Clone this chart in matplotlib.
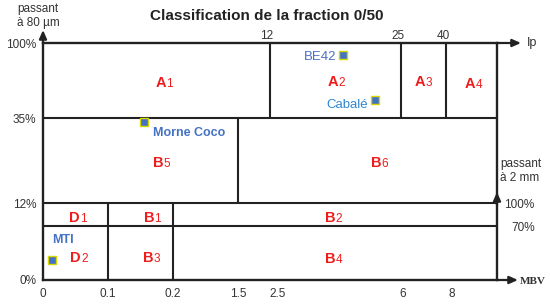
import numpy as np
import matplotlib
matplotlib.use('Agg')
import matplotlib.pyplot as plt
from matplotlib.transforms import ScaledTranslation

plt.rcParams['font.family'] = ['Liberation Sans', 'DejaVu Sans']

# ---------------- data ----------------
TITLE = "Classification de la fraction 0/50"
MBV_TICKS = [0, 0.1, 0.2, 1.5, 2.5, 6, 8]
MBV_TICK_LABELS = ["0", "0.1", "0.2", "1.5", "2.5", "6", "8"]
IP_TICKS = [12, 25, 40]
P80_TICKS = [0, 12, 35, 100]
P2_TICKS = [70, 100]

# class boundaries
P80_LIMITS = [12, 35]          # passant 80 µm (%)
A_IP_LIMITS = [12, 25, 40]     # Ip limits for A classes (35-100 %)
B_MBV_LIMIT = [1.5]            # B5 / B6 (12-35 %)
LOW_MBV_LIMITS = [0.1, 0.2]    # D / B1-B3 / B2-B4 (0-12 %)
P2_LIMIT = [70]                # passant 2 mm (%)

# samples
IP_SAMPLES = ["BE42", "Cabalé"]
IP_SAMPLES_IP = [19.2, 22.4]
IP_SAMPLES_P80 = [89.6, 50.6]
MBV_SAMPLES = ["Morne Coco", "MTI"]
MBV_SAMPLES_MBV = [0.155, 0.014]
MBV_SAMPLES_P80 = [33.9, 3.1]

CLASSES = ["A", "A", "A", "A", "B", "B", "D", "B", "B", "D", "B", "B"]
CLASS_SUBS = ["1", "2", "3", "4", "5", "6", "1", "1", "2", "2", "3", "4"]

# ---------------- layout ----------------
W, H = 550, 305
fig = plt.figure(figsize=(5.5, 3.05), dpi=100)
fig.patch.set_facecolor('white')


def fx(x):
    return x / W


def fy(y):
    return 1 - y / H


L, R, T, B = 43, 497, 43, 280
ax = fig.add_axes([fx(L), fy(B), (R - L) / W, (B - T) / H])


def piecewise(nodes, pos):
    n = np.asarray(nodes, float)
    p = np.asarray(pos, float)
    return (lambda v: np.interp(v, n, p)), (lambda v: np.interp(v, p, n))


ax.set_xscale('function', functions=piecewise([0, 0.1, 0.2, 1.5, 2.5, 6, 8, 10],
                                              [0, 65, 130, 195, 235, 360, 409, 454]))
ax.set_yscale('function', functions=piecewise([0, 12, 35, 100], [0, 77, 162, 237]))
ax.set_xlim(0, 10)
ax.set_ylim(0, 100)

LC = '#222222'
LW = 1.5
for s in ax.spines.values():
    s.set_linewidth(1.7)
    s.set_color(LC)

# horizontal limits
for v in P80_LIMITS:
    ax.axhline(v, color=LC, lw=LW)
ax.vlines(B_MBV_LIMIT, 12, 35, color=LC, lw=LW)
ax.vlines(LOW_MBV_LIMITS, 0, 12, color=LC, lw=LW)

# MBV ticks
ax.set_xticks(MBV_TICKS)
ax.set_xticklabels(MBV_TICK_LABELS)
ax.set_yticks(P80_TICKS)
ax.set_yticklabels([f"{v}%" for v in P80_TICKS])
ax.tick_params(length=0, labelsize=8.5, labelcolor='#333333')
ax.tick_params(axis='x', pad=6)
ax.tick_params(axis='y', pad=5)

# Ip axis
ax_ip = ax.twiny()
ax_ip.set_xscale('function', functions=piecewise([0, 12, 25, 40, 60],
                                                 [0, 227, 358, 403, 454]))
ax_ip.set_xlim(0, 60)
ax_ip.vlines(A_IP_LIMITS, 35, 100, color=LC, lw=LW)
ax_ip.set_xticks(IP_TICKS)
ax_ip.tick_params(length=0, labelsize=8.5, labelcolor='#333333', pad=1)
for lab in ax_ip.get_xticklabels():
    lab.set_transform(lab.get_transform() + ScaledTranslation(-3 / 100, 0, fig.dpi_scale_trans))
for s in ax_ip.spines.values():
    s.set_visible(False)

# passant 2 mm axis
ax2 = ax.twinx()
ax2.set_ylim(0, 100 * 237 / 77)
ax2.axhline(P2_LIMIT[0], color=LC, lw=LW)
ax2.set_yticks(P2_TICKS)
ax2.set_yticklabels([f"{v}%" for v in P2_TICKS])
ax2.tick_params(length=0, labelsize=8.5, labelcolor='#333333', pad=27)
for lab in ax2.get_yticklabels():
    lab.set_horizontalalignment('right')
for s in ax2.spines.values():
    s.set_visible(False)

# samples
MK = dict(marker='s', ms=6, mfc='#4472c4', mec='#d8d800', mew=1.0, ls='none', zorder=5)
ax_ip.plot(IP_SAMPLES_IP, IP_SAMPLES_P80, **MK)
ax.plot(MBV_SAMPLES_MBV, MBV_SAMPLES_P80, **MK)
ip_offsets = [(-4.5, -1.5), (-5, -3.8)]
ip_colors = ['#4a6fc4', '#2f86d2']
for name, xv, yv, off, c in zip(IP_SAMPLES, IP_SAMPLES_IP, IP_SAMPLES_P80, ip_offsets, ip_colors):
    ax_ip.annotate(name, (xv, yv), xytext=off, textcoords='offset points',
                   ha='right', va='center', fontsize=9.5, color=c)
mbv_offsets = [(7, -8), (0, 14.5)]
mbv_weights = ['bold', 'semibold']
for name, xv, yv, off, w in zip(MBV_SAMPLES, MBV_SAMPLES_MBV, MBV_SAMPLES_P80, mbv_offsets, mbv_weights):
    ax.annotate(name, (xv, yv), xytext=off, textcoords='offset points',
                ha='left', va='center', fontsize=9, color='#4472c4', fontweight=w)

# class labels (junction x, baseline y in px)
CLASS_POS = [(166, 87), (338, 86), (425, 86), (475, 88), (163, 167), (381, 167),
             (80, 222), (154, 222), (335, 222), (81, 262), (153, 262), (335, 263)]
RED = '#ee1c1c'
for name, sub, (x, y) in zip(CLASSES, CLASS_SUBS, CLASS_POS):
    fig.text(fx(x), fy(y), name, ha='right', va='baseline', fontsize=10.5,
             fontweight='bold', color=RED)
    fig.text(fx(x + 0.5), fy(y), sub, ha='left', va='baseline', fontsize=8.5,
             color=RED)

# title & axis names
fig.text(fx(267), fy(16), TITLE, ha='center', va='center', fontsize=11,
         fontweight='bold', color='#222222')
fig.text(fx(38), fy(16), "passant\nà 80 µm", ha='center', va='center',
         fontsize=8.5, color='#333333', linespacing=1.15)
fig.text(fx(500), fy(171), "passant\nà 2 mm", ha='left', va='center',
         fontsize=8.5, color='#333333', linespacing=1.15)
fig.text(fx(527), fy(43), "Ip", ha='left', va='center', fontsize=9, color='#333333')
fig.text(fx(520), fy(281), "MBV", ha='left', va='center', fontsize=8,
         fontweight='bold', family='Liberation Serif', color='#333333')

# arrows
AP = dict(arrowstyle='-|>,head_length=0.5,head_width=0.22', color=LC, lw=1.6,
          shrinkA=0, shrinkB=0)
for (x0, y0), (x1, y1) in [((L, T), (L, 30)), ((R, T), (521, T)),
                           ((R, B), (518, B)), ((R, 205), (R, 192))]:
    fig.add_artist(matplotlib.patches.FancyArrowPatch(
        (fx(x0), fy(y0)), (fx(x1), fy(y1)), transform=fig.transFigure,
        mutation_scale=10, **AP))

fig.savefig('out.png', dpi=100, facecolor='white')
